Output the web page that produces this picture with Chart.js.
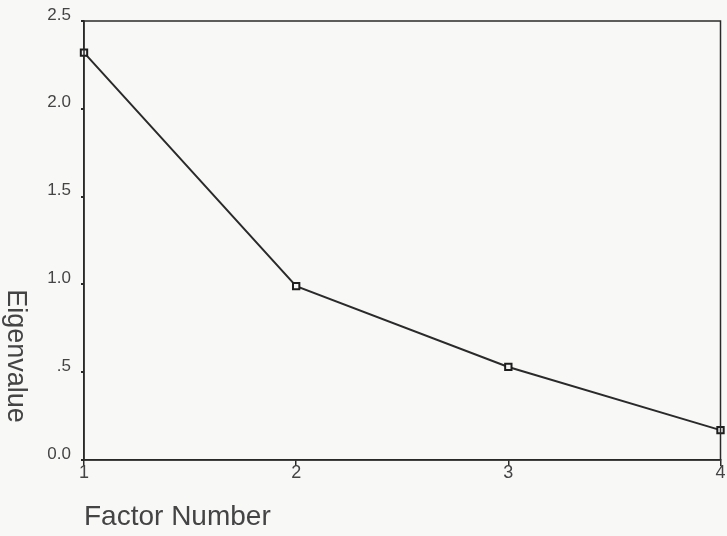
<!DOCTYPE html>
<html>
<head>
<meta charset="utf-8">
<script src="https://cdn.jsdelivr.net/npm/chart.js@4/dist/chart.umd.min.js"></script>
<style>
  html, body { margin: 0; padding: 0; background: #f8f9f7; }
  #wrap { width: 727px; height: 536px; }
</style>
</head>
<body>
<div id="wrap"><canvas id="screeChart"></canvas></div>
<script>
// scree plot values
const factors = [1, 2, 3, 4];
const eigenvalues = [2.32, 0.99, 0.53, 0.17];
const yTicks = [0, 0.5, 1.0, 1.5, 2.0, 2.5];
const yTickLabels = ['0.0', '.5', '1.0', '1.5', '2.0', '2.5'];

const ink = '#2a2a2a';
const textGray = '#444';

// frame around the plot + vertical title rotated clockwise
const framePlugin = {
    id: 'frame',
    afterDraw(chart) {
        const ctx = chart.ctx;
        const a = chart.chartArea;
        ctx.save();
        ctx.strokeStyle = ink;
        ctx.lineWidth = 1.5;
        ctx.strokeRect(a.left, a.top, a.right - a.left, a.bottom - a.top);
        ctx.translate(15, 356);
        ctx.rotate(Math.PI / 2);
        ctx.fillStyle = textGray;
        ctx.font = '27px "Liberation Sans", Arial, sans-serif';
        ctx.textAlign = 'center';
        ctx.textBaseline = 'middle';
        ctx.fillText('Eigenvalue', 0, 0);
        ctx.restore();
    }
};

const ctx = document.getElementById('screeChart').getContext('2d');
const chart = new Chart(ctx, {
    type: 'line',
    data: {
        datasets: [{
            data: factors.map((f, i) => ({ x: f, y: eigenvalues[i] })),
            borderColor: ink,
            borderWidth: 2,
            pointStyle: 'rect',
            pointRadius: 4.5,
            pointBorderWidth: 2,
            pointBorderColor: '#1e1e1e',
            pointBackgroundColor: '#f4f4f4',
            clip: false,
            tension: 0
        }]
    },
    options: {
        responsive: true,
        maintainAspectRatio: false,
        animation: false,
        layout: { padding: { top: 21, right: 5, left: 0, bottom: 0 } },
        plugins: { legend: { display: false }, tooltip: { enabled: false } },
        scales: {
            x: {
                type: 'linear',
                min: 1,
                max: 4,
                afterFit: s => { s.height = 76; },
                border: { display: true, color: ink, width: 1.5 },
                grid: { drawOnChartArea: false, drawTicks: true, tickLength: 6, color: ink, lineWidth: 1.5 },
                ticks: {
                    stepSize: 1,
                    padding: -4,
                    color: textGray,
                    font: { family: '"Liberation Sans", Arial, sans-serif', size: 18 }
                },
                title: {
                    display: true,
                    text: 'Factor Number',
                    align: 'start',
                    color: textGray,
                    font: { family: '"Liberation Sans", Arial, sans-serif', size: 28 },
                    padding: { top: 0, bottom: 2 }
                }
            },
            y: {
                min: 0,
                max: 2.5,
                afterFit: s => { s.width = 84; },
                afterBuildTicks: s => { s.ticks = yTicks.map(v => ({ value: v })); },
                border: { display: true, color: ink, width: 1.5 },
                grid: { drawOnChartArea: false, drawTicks: true, tickLength: 3, color: ink, lineWidth: 2 },
                ticks: {
                    padding: 10,
                    labelOffset: -6,
                    color: textGray,
                    font: { family: '"Liberation Sans", Arial, sans-serif', size: 17 },
                    callback: v => yTickLabels[yTicks.indexOf(v)]
                }
            }
        }
    },
    plugins: [framePlugin]
});
</script>
</body>
</html>
